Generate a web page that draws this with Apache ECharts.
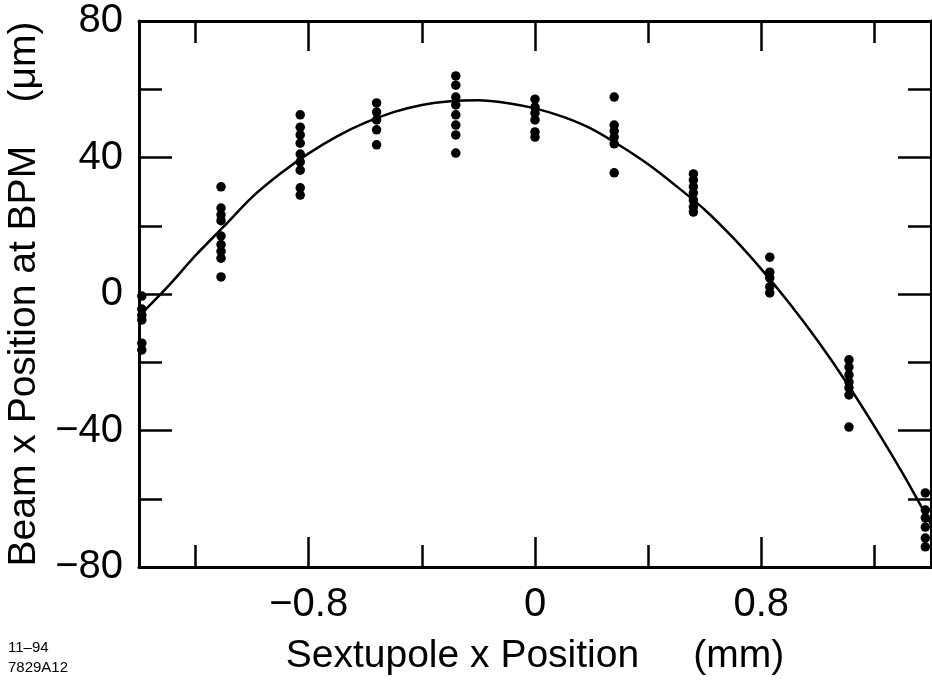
<!DOCTYPE html>
<html>
<head>
<meta charset="utf-8">
<script src="https://cdn.jsdelivr.net/npm/echarts@6/dist/echarts.min.js"></script>
<style>
html,body{margin:0;padding:0;background:#fff;}
#chart{width:932px;height:686px;}
</style>
</head>
<body>
<div id="chart"></div>
<script>
// ---- data ----
const colX = [-1.39, -1.11, -0.83, -0.56, -0.28, 0, 0.28, 0.56, 0.83, 1.11, 1.38];
const colY = [
  [-0.6, -4.4, -6.2, -7.6, -14.4, -16.4],
  [31.4, 25.2, 23.2, 21.5, 17.0, 14.5, 12.5, 10.5, 5.0],
  [52.5, 48.9, 46.6, 44.2, 41.0, 38.7, 36.3, 31.1, 29.0],
  [56.0, 53.3, 51.0, 48.1, 43.7],
  [63.9, 61.2, 57.7, 55.4, 52.5, 49.5, 46.6, 41.3],
  [57.1, 54.8, 53.0, 51.0, 47.5, 46.0],
  [57.7, 49.5, 47.8, 46.0, 44.0, 35.5],
  [35.2, 33.4, 31.4, 29.6, 27.5, 25.5, 24.0],
  [10.8, 6.4, 4.7, 2.1, 0.3],
  [-19.3, -21.4, -23.7, -25.8, -27.5, -29.6, -39.0],
  [-58.3, -63.3, -65.6, -68.3, -71.5, -74.1]
];
const fitX = [-1.4, -1.3, -1.2, -1.1, -1.0, -0.9, -0.8, -0.7, -0.6, -0.5, -0.4, -0.3, -0.2, -0.1, 0.0,
              0.1, 0.2, 0.3, 0.4, 0.5, 0.6, 0.7, 0.8, 0.9, 1.0, 1.1, 1.2, 1.3, 1.4];
const fitY = [-6.5, 2.0, 11.3, 19.8, 28.4, 35.3, 41.2, 46.2, 50.2, 53.3, 55.4, 56.5, 56.8, 56.0, 54.4,
              51.9, 48.4, 43.5, 38.0, 31.6, 24.7, 16.5, 7.3, -2.8, -13.8, -25.8, -38.8, -52.6, -67.5];
const xMajorTicks = [-0.8, 0, 0.8];
const xMinorTicks = [-1.2, -0.4, 0.4, 1.2];
const yMajorTicks = [-40, 0, 40];
const yMinorTicks = [-60, -20, 20, 60];
const yLabels = [-80, -40, 0, 40, 80];
const xTitle = 'Sextupole x Position     (mm)';
const yTitle = 'Beam x Position at BPM    (\u03bcm)';
const footnote = ['11\u201394', '7829A12'];

// ---- build ----
const points = [];
colX.forEach((x, i) => colY[i].forEach(y => points.push([x, y])));
const curve = fitX.map((x, i) => [x, fitY[i]]);

const FONT = "'Liberation Sans', Arial, Helvetica, sans-serif";
const fmt = v => String(+v.toFixed(2)).replace('-', '\u2212');
const lineStyle = {color: '#000', width: 3};

function xAx(pos, major, showLine, labels) {
  return {
    type: 'value', position: pos, min: -1.4, max: 1.4,
    axisLine: {show: showLine, onZero: false, lineStyle},
    axisTick: {show: true, inside: true, customValues: major ? xMajorTicks : xMinorTicks,
               length: major ? 30 : 22, lineStyle: {color: '#000', width: 2.5}},
    axisLabel: labels ? {show: true, customValues: xMajorTicks, formatter: fmt,
               fontSize: 40, color: '#000', fontFamily: FONT, margin: 18} : {show: false},
    splitLine: {show: false}
  };
}
function yAx(pos, major, showLine, labels) {
  return {
    type: 'value', position: pos, min: -80, max: 80,
    axisLine: {show: showLine, onZero: false, lineStyle},
    axisTick: {show: true, inside: true, customValues: major ? yMajorTicks : yMinorTicks,
               length: major ? 33 : 23, lineStyle: {color: '#000', width: 2.5}},
    axisLabel: labels ? {show: true, customValues: yLabels, formatter: fmt,
               fontSize: 40, color: '#000', fontFamily: FONT, margin: 16} : {show: false},
    splitLine: {show: false}
  };
}

const xAxes = [xAx('bottom', true, true, true), xAx('bottom', false, false, false),
               xAx('top', true, true, false), xAx('top', false, false, false)];
Object.assign(xAxes[0], {name: xTitle, nameLocation: 'middle', nameGap: 70,
  nameTextStyle: {fontSize: 39, color: '#000', fontFamily: FONT}});
const yAxes = [yAx('left', true, true, true), yAx('left', false, false, false),
               yAx('right', true, true, false), yAx('right', false, false, false)];
Object.assign(yAxes[0], {name: yTitle, nameLocation: 'middle', nameGap: 81,
  nameTextStyle: {fontSize: 39, color: '#000', fontFamily: FONT}});

const chart = echarts.init(document.getElementById('chart'), null, {renderer: 'canvas'});
chart.setOption({
  animation: false,
  backgroundColor: '#fff',
  grid: {left: 139, right: 1, top: 21, bottom: 119, containLabel: false, outerBoundsMode: 'none'},
  xAxis: xAxes,
  yAxis: yAxes,
  series: [
    {type: 'line', data: curve, xAxisIndex: 0, yAxisIndex: 0, smooth: 0.3, symbol: 'none',
     lineStyle: {color: '#000', width: 2.5}, z: 3},
    {type: 'scatter', data: points, xAxisIndex: 0, yAxisIndex: 0, symbol: 'circle', symbolSize: 9.5,
     itemStyle: {color: '#000', opacity: 1}, clip: false, z: 4}
  ],
  graphic: [
    {type: 'text', left: 8, top: 638, style: {text: footnote.join('\n'), fontSize: 15, lineHeight: 20,
      fill: '#000', fontFamily: FONT}}
  ]
});
</script>
</body>
</html>
